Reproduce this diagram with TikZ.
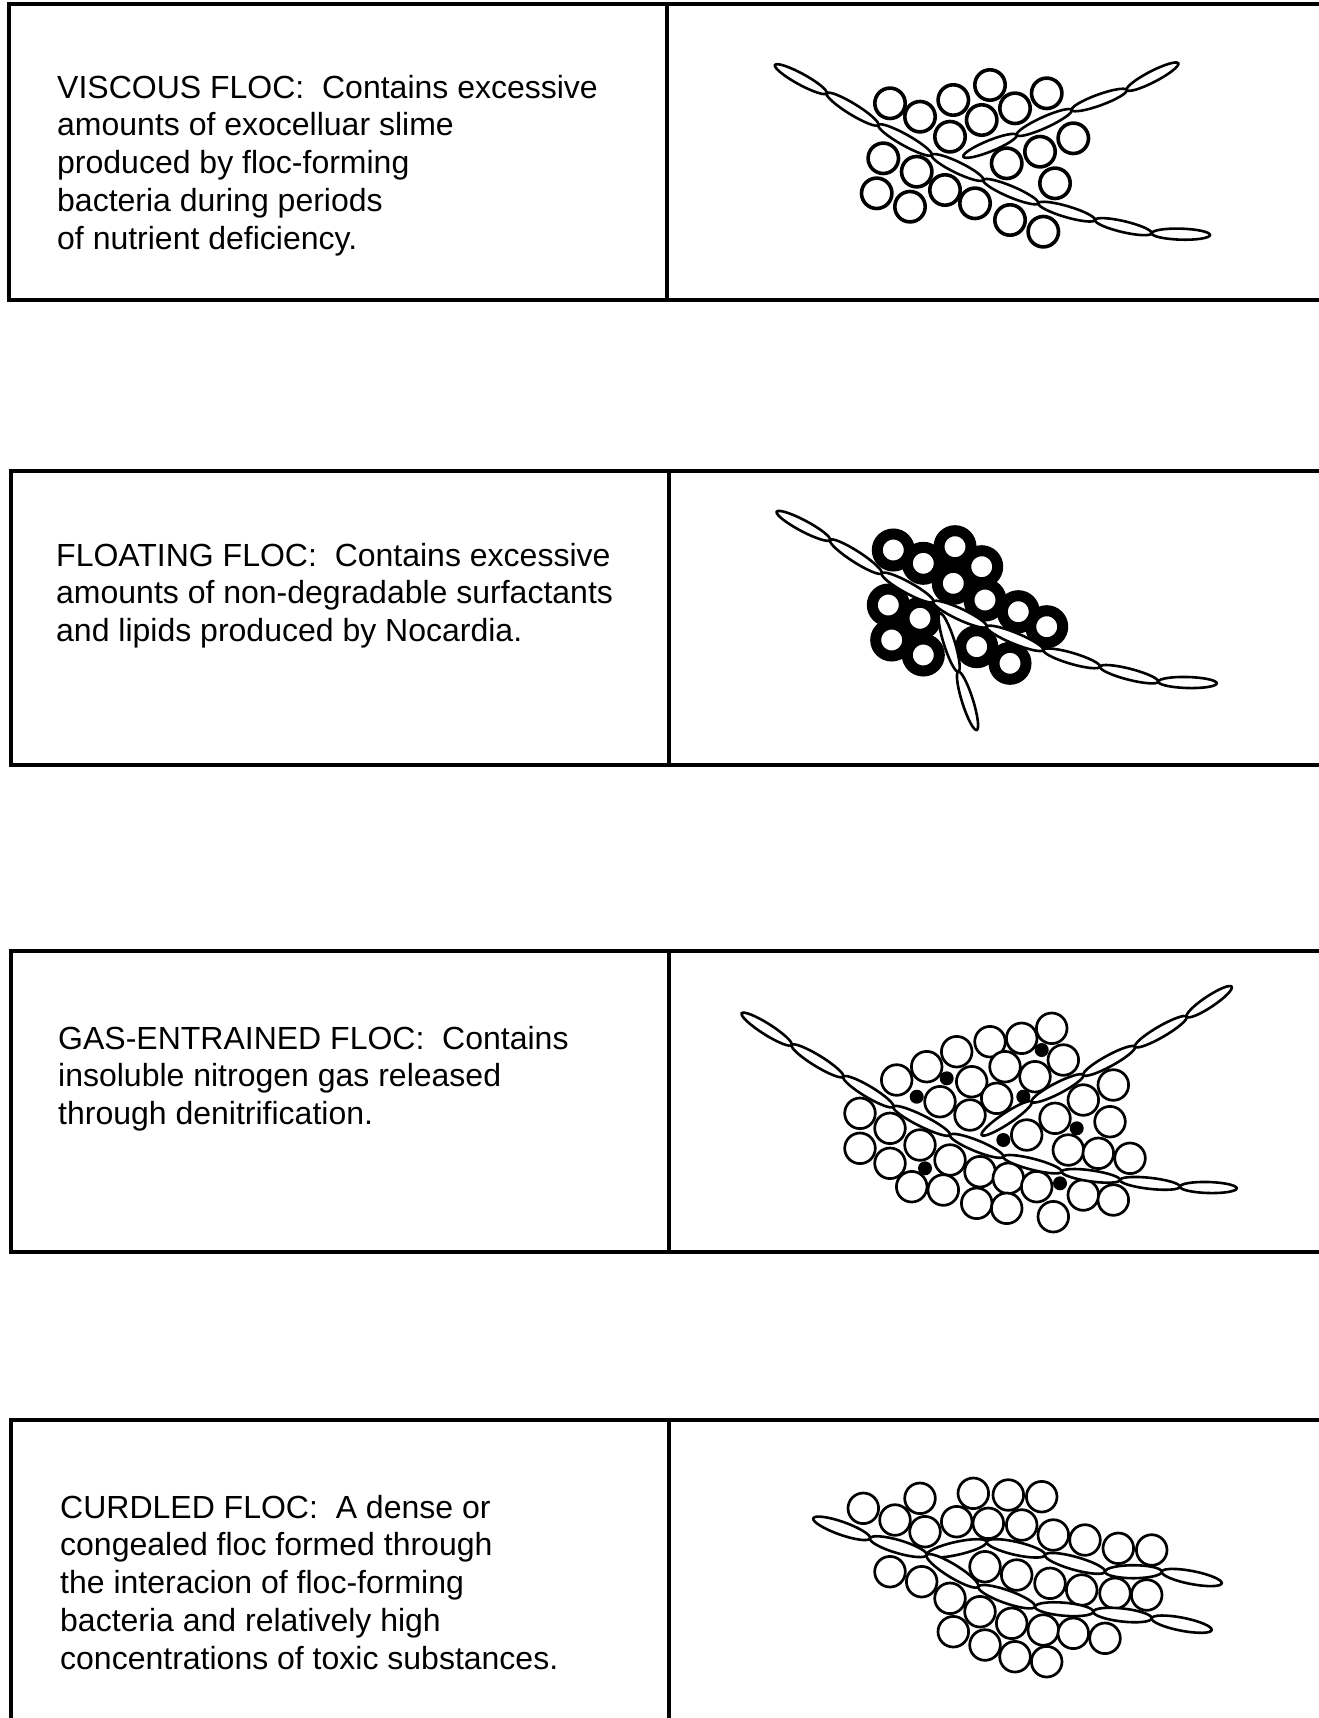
\documentclass[tikz,border=0pt]{standalone}
\usepackage{fontspec}
\setmainfont{Liberation Sans}
\usetikzlibrary{calc}

% a filament cell: white ellipse spanning two points (image coordinates)
\newcommand\filament[4]{%
  \pgfmathsetmacro\fang{atan2(-((#4)-(#2)),(#3)-(#1))}%
  \pgfmathsetmacro\flen{veclen((#3)-(#1),(#4)-(#2))/2}%
  \draw[fil, shift={({((#1)+(#3))/2},{((#2)+(#4))/2})}, rotate=\fang]
    (0,0) ellipse [x radius=\flen pt, y radius=\filw pt];}
% a chain of filaments through a list of x/y points
\newcommand\chain[1]{%
  \foreach \x/\y [count=\i, remember=\x as \lx, remember=\y as \ly] in {#1}
    {\ifnum\i>1 \filament{\lx}{\ly}{\x}{\y}\fi}}
\def\filw{5.5}

\begin{document}
\begin{tikzpicture}[x=1pt, y=-1pt,
  frame/.style={line width=3.4pt, line cap=rect},
  fil/.style={draw, fill=white, line width=2.6pt},
  cell/.style={draw, fill=white, line width=3.6pt},
  thincell/.style={draw, fill=white, line width=2.7pt},
  ring/.style={draw=black, fill=white, line width=11pt},
  gas/.style={fill=black},
  desc/.style={anchor=base west, inner sep=0pt, align=left,
    font=\fontsize{32}{37.8}\selectfont}]
\useasboundingbox[fill=white] (0,0) rectangle (1319,1718);

% ---------- panel frames ----------
\draw[frame] (1330,4) -- (9,4) -- (9,300) -- (1330,300);
\draw[frame] (667,4) -- (667,300);
\draw[frame] (1330,471) -- (11,471) -- (11,765) -- (1330,765);
\draw[frame] (669,471) -- (669,765);
\draw[frame] (1330,951) -- (11,951) -- (11,1252) -- (1330,1252);
\draw[frame] (669,951) -- (669,1252);
\draw[frame] (11,1730) -- (11,1420) -- (1330,1420);
\draw[frame] (669,1420) -- (669,1730);

% ---------- descriptions (anchored at the last baseline) ----------
\node[desc] (viscous) at (57,249.2) {VISCOUS FLOC:~ Contains excessive\\
  amounts of exocelluar slime\\ produced by floc-forming\\
  bacteria during periods\\ of nutrient deficiency.};
\node[desc] (floating) at (56,641.6) {FLOATING FLOC:~ Contains excessive\\
  amounts of non-degradable surfactants\\ and lipids produced by Nocardia.};
\node[desc] (gas) at (58,1124.6) {GAS-ENTRAINED FLOC:~ Contains\\
  insoluble nitrogen gas released\\ through denitrification.};
\node[desc] (curdled) at (60,1669.2) {CURDLED FLOC:~ A dense or\\
  congealed floc formed through\\ the interacion of floc-forming\\
  bacteria and relatively high\\ concentrations of toxic substances.};

% ---------- viscous floc ----------
\foreach \x/\y in {890/103.3, 920/116.7, 953.3/100, 990/85, 1015/108.3,
  1046.7/93.3, 981.7/120, 950/136.7, 1073.3/138.3, 1040/151.7,
  1006.7/163.3, 883.3/158.3, 916.7/171.7, 945/190, 1055/183.3,
  876.7/193.3, 910/206.7, 975/203.3, 1010/220, 1043.3/231.7}
  \draw[cell] (\x,\y) circle [radius=15.2pt];
\chain{775/65, 826.7/93.3, 878.3/125, 931.7/155, 983.3/180,
  1038.3/203.3, 1095/220, 1151.7/233.3, 1210/235}
\chain{1178.3/63.3, 1126.7/90, 1071.7/110, 1016.7/135, 963.3/156.7}

% ---------- floating floc ----------
\foreach \x/\y in {893.3/550, 923.3/563.3, 955/546.7, 981.7/566.7,
  953.3/583.3, 888.3/605, 920/618.3, 985/600, 1018.3/611.7,
  1046.7/626.7, 891.7/640, 923.3/655, 976.7/646.7, 1010/663.3}
  \draw[ring] (\x,\y) circle [radius=16pt];
\chain{776.7/511.7, 830/540, 881.7/573.3, 933.3/601.7, 986.7/626.7,
  1043.3/650, 1100/666.7, 1158.3/681.7, 1216.7/683.3}
\chain{940/613.3, 958.3/671.7, 976.7/730}

% ---------- gas-entrained floc ----------
\foreach \x/\y in {1051.7/1028.3, 1021.7/1038.3, 990/1041.7, 956.7/1051.7,
  926.7/1066.7, 896.7/1080, 1063.3/1060, 1005/1066.7, 1035/1076.7,
  971.7/1081.7, 940/1101.7, 996.7/1098.3, 1113.3/1085, 1083.3/1100,
  1055/1118.3, 970/1115, 860/1113.3, 890/1128.3, 920/1145, 950/1160,
  1026.7/1135, 1110/1121.7, 1068.3/1150, 1098.3/1153.3, 1130/1158.3,
  860/1148.3, 890/1163.3, 980/1171.7, 1008.3/1178.3, 911.7/1186.7,
  943.3/1190, 1036.7/1186.7, 1083.3/1195, 1113.3/1200, 976.7/1203.3,
  1006.7/1208.3, 1053.3/1216.7}
  \draw[thincell] (\x,\y) circle [radius=15.3pt];
\chain{741.7/1013.3, 791.7/1045, 843.3/1076.7, 893.3/1106.7, 950/1135,
  1003.3/1156.7, 1061.7/1171.7, 1120/1180, 1180/1186.7, 1236.7/1188.3}
\chain{1231.7/986.7, 1186.7/1016.7, 1135/1046.7, 1083.3/1075,
  1031.7/1101.7, 981.7/1135}
\foreach \x/\y in {1041.7/1050, 946.7/1078.3, 916.7/1096.7, 1023.3/1096.7,
  1076.7/1128.3, 1003.3/1140, 925/1168.3, 1060/1183.3}
  \fill[gas] (\x,\y) circle [radius=7pt];

% ---------- curdled floc ----------
\foreach \x/\y in {863.3/1508.3, 920/1498.3, 973.3/1493.3, 1008.3/1495,
  1041.7/1496.7, 895/1520, 925/1531.7, 956.7/1521.7, 988.3/1523.3,
  1021.7/1525, 1053.3/1535, 1085/1540, 1118.3/1548.3, 1151.7/1550,
  890/1571.7, 921.7/1581.7, 985/1566.7, 1016.7/1575, 1050/1583.3,
  1081.7/1590, 1115/1593.3, 1146.7/1595, 950/1598.3, 980/1611.7,
  1011.7/1623.3, 1043.3/1630, 1073.3/1633.3, 1105/1638.3, 953.3/1631.7,
  985/1645, 1015/1656.7, 1046.7/1661.7}
  \draw[thincell] (\x,\y) circle [radius=15.3pt];
\def\filw{6.5}
\chain{813.3/1518.3, 870/1538.3, 926.7/1555, 986.7/1541.7, 1045/1555,
  1105/1571.7, 1161.7/1571.7, 1221.7/1583.3}
\chain{926.7/1555, 978.3/1586.7, 1035/1606.7, 1093.3/1611.7,
  1151.7/1618.3, 1211.7/1630}
\end{tikzpicture}
\end{document}
